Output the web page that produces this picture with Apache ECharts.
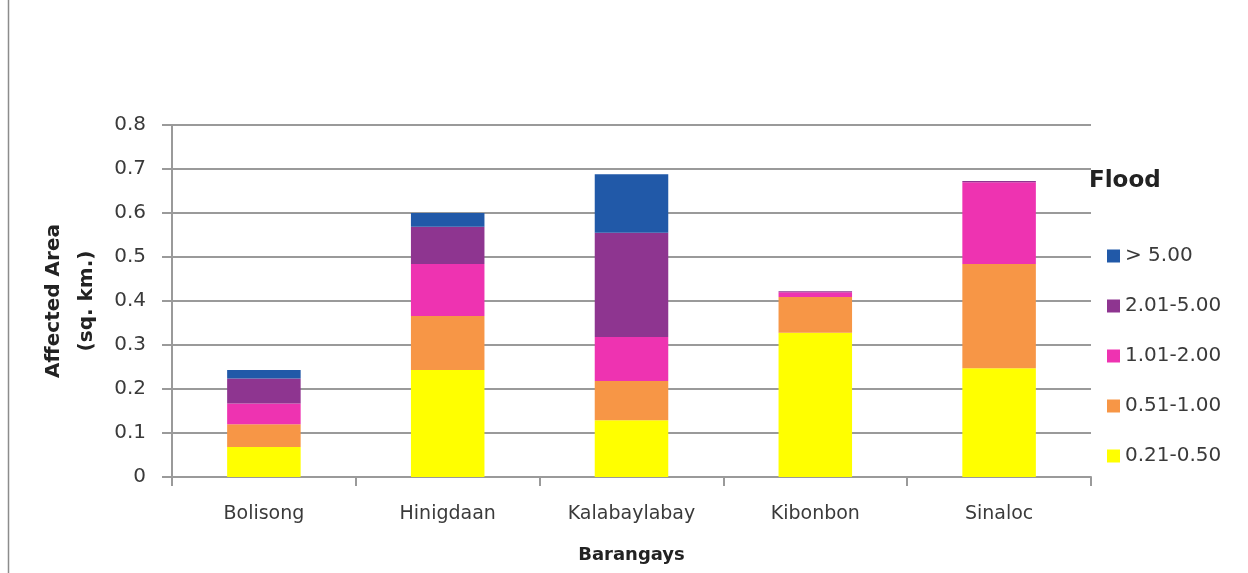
<!DOCTYPE html>
<html>
<head>
<meta charset="utf-8">
<script src="https://cdn.jsdelivr.net/npm/echarts@6/dist/echarts.min.js"></script>
<style>
html,body{margin:0;padding:0;background:#fff;}
#chart{width:1248px;height:573px;}
</style>
</head>
<body>
<div id="chart"></div>
<script>
const categories = ['Bolisong', 'Hinigdaan', 'Kalabaylabay', 'Kibonbon', 'Sinaloc'];
const seriesNames = ['0.21-0.50', '0.51-1.00', '1.01-2.00', '2.01-5.00', '> 5.00'];
const v021_050 = [0.068, 0.243, 0.129, 0.328, 0.247];
const v051_100 = [0.052, 0.123, 0.089, 0.081, 0.237];
const v101_200 = [0.047, 0.118, 0.100, 0.011, 0.186];
const v201_500 = [0.057, 0.085, 0.237, 0.002, 0.003];
const vOver500 = [0.019, 0.031, 0.133, 0, 0];
const colors = ['#FFFF00', '#F79646', '#EE33B1', '#8E3590', '#2159A8'];
const legendTitle = 'Flood';
const yAxisTitle = 'Affected Area\n(sq. km.)';
const xAxisTitle = 'Barangays';

const values = [v021_050, v051_100, v101_200, v201_500, vOver500];
const font = 'DejaVu Sans';

const chart = echarts.init(document.getElementById('chart'), null, {renderer: 'canvas'});
chart.setOption({
  animation: false,
  backgroundColor: '#ffffff',
  grid: {left: 172, right: 157, top: 125, bottom: 96, containLabel: false},
  legend: {
    orient: 'vertical',
    left: 1102,
    top: 241,
    itemWidth: 13,
    itemHeight: 13,
    itemGap: 30,
    selectedMode: false,
    icon: 'rect',
    data: seriesNames.slice().reverse(),
    textStyle: {fontFamily: font, fontSize: 20, color: '#3a3a3a', lineHeight: 20, padding: [0, 0, 0, 0]}
  },
  graphic: [
    {type: 'line', shape: {x1: 8.5, y1: 0, x2: 8.5, y2: 573}, style: {stroke: '#8c8c8c', lineWidth: 1.5}},
    {type: 'text', left: 1089, top: 170, style: {text: legendTitle, font: 'bold 23px "DejaVu Sans"', fill: '#222'}}
  ],
  xAxis: {
    type: 'category',
    data: categories,
    name: xAxisTitle,
    nameLocation: 'middle',
    nameGap: 69,
    nameTextStyle: {fontFamily: font, fontSize: 18, fontWeight: 'bold', color: '#222'},
    axisLine: {show: true, lineStyle: {color: '#9a9a9a', width: 2}},
    axisTick: {show: true, length: 9, lineStyle: {color: '#9a9a9a', width: 2}},
    axisLabel: {fontFamily: font, fontSize: 19, color: '#3a3a3a', margin: 28}
  },
  yAxis: {
    type: 'value',
    min: 0,
    max: 0.8,
    interval: 0.1,
    name: yAxisTitle,
    nameLocation: 'middle',
    nameGap: 69,
    nameTextStyle: {fontFamily: font, fontSize: 20, fontWeight: 'bold', color: '#222', lineHeight: 33, align: 'center'},
    axisLine: {show: true, lineStyle: {color: '#9a9a9a', width: 2}},
    axisTick: {show: true, length: 10, lineStyle: {color: '#9a9a9a', width: 2}},
    axisLabel: {fontFamily: font, fontSize: 20, color: '#3a3a3a', margin: 26,
      formatter: function (v) { return v === 0 ? '0' : v.toFixed(1); }},
    splitLine: {show: true, lineStyle: {color: '#9a9a9a', width: 2}}
  },
  series: seriesNames.map(function (name, i) {
    return {
      name: name,
      type: 'bar',
      stack: 'total',
      barWidth: '40%',
      data: values[i],
      itemStyle: {color: colors[i]}
    };
  })
});
</script>
</body>
</html>
